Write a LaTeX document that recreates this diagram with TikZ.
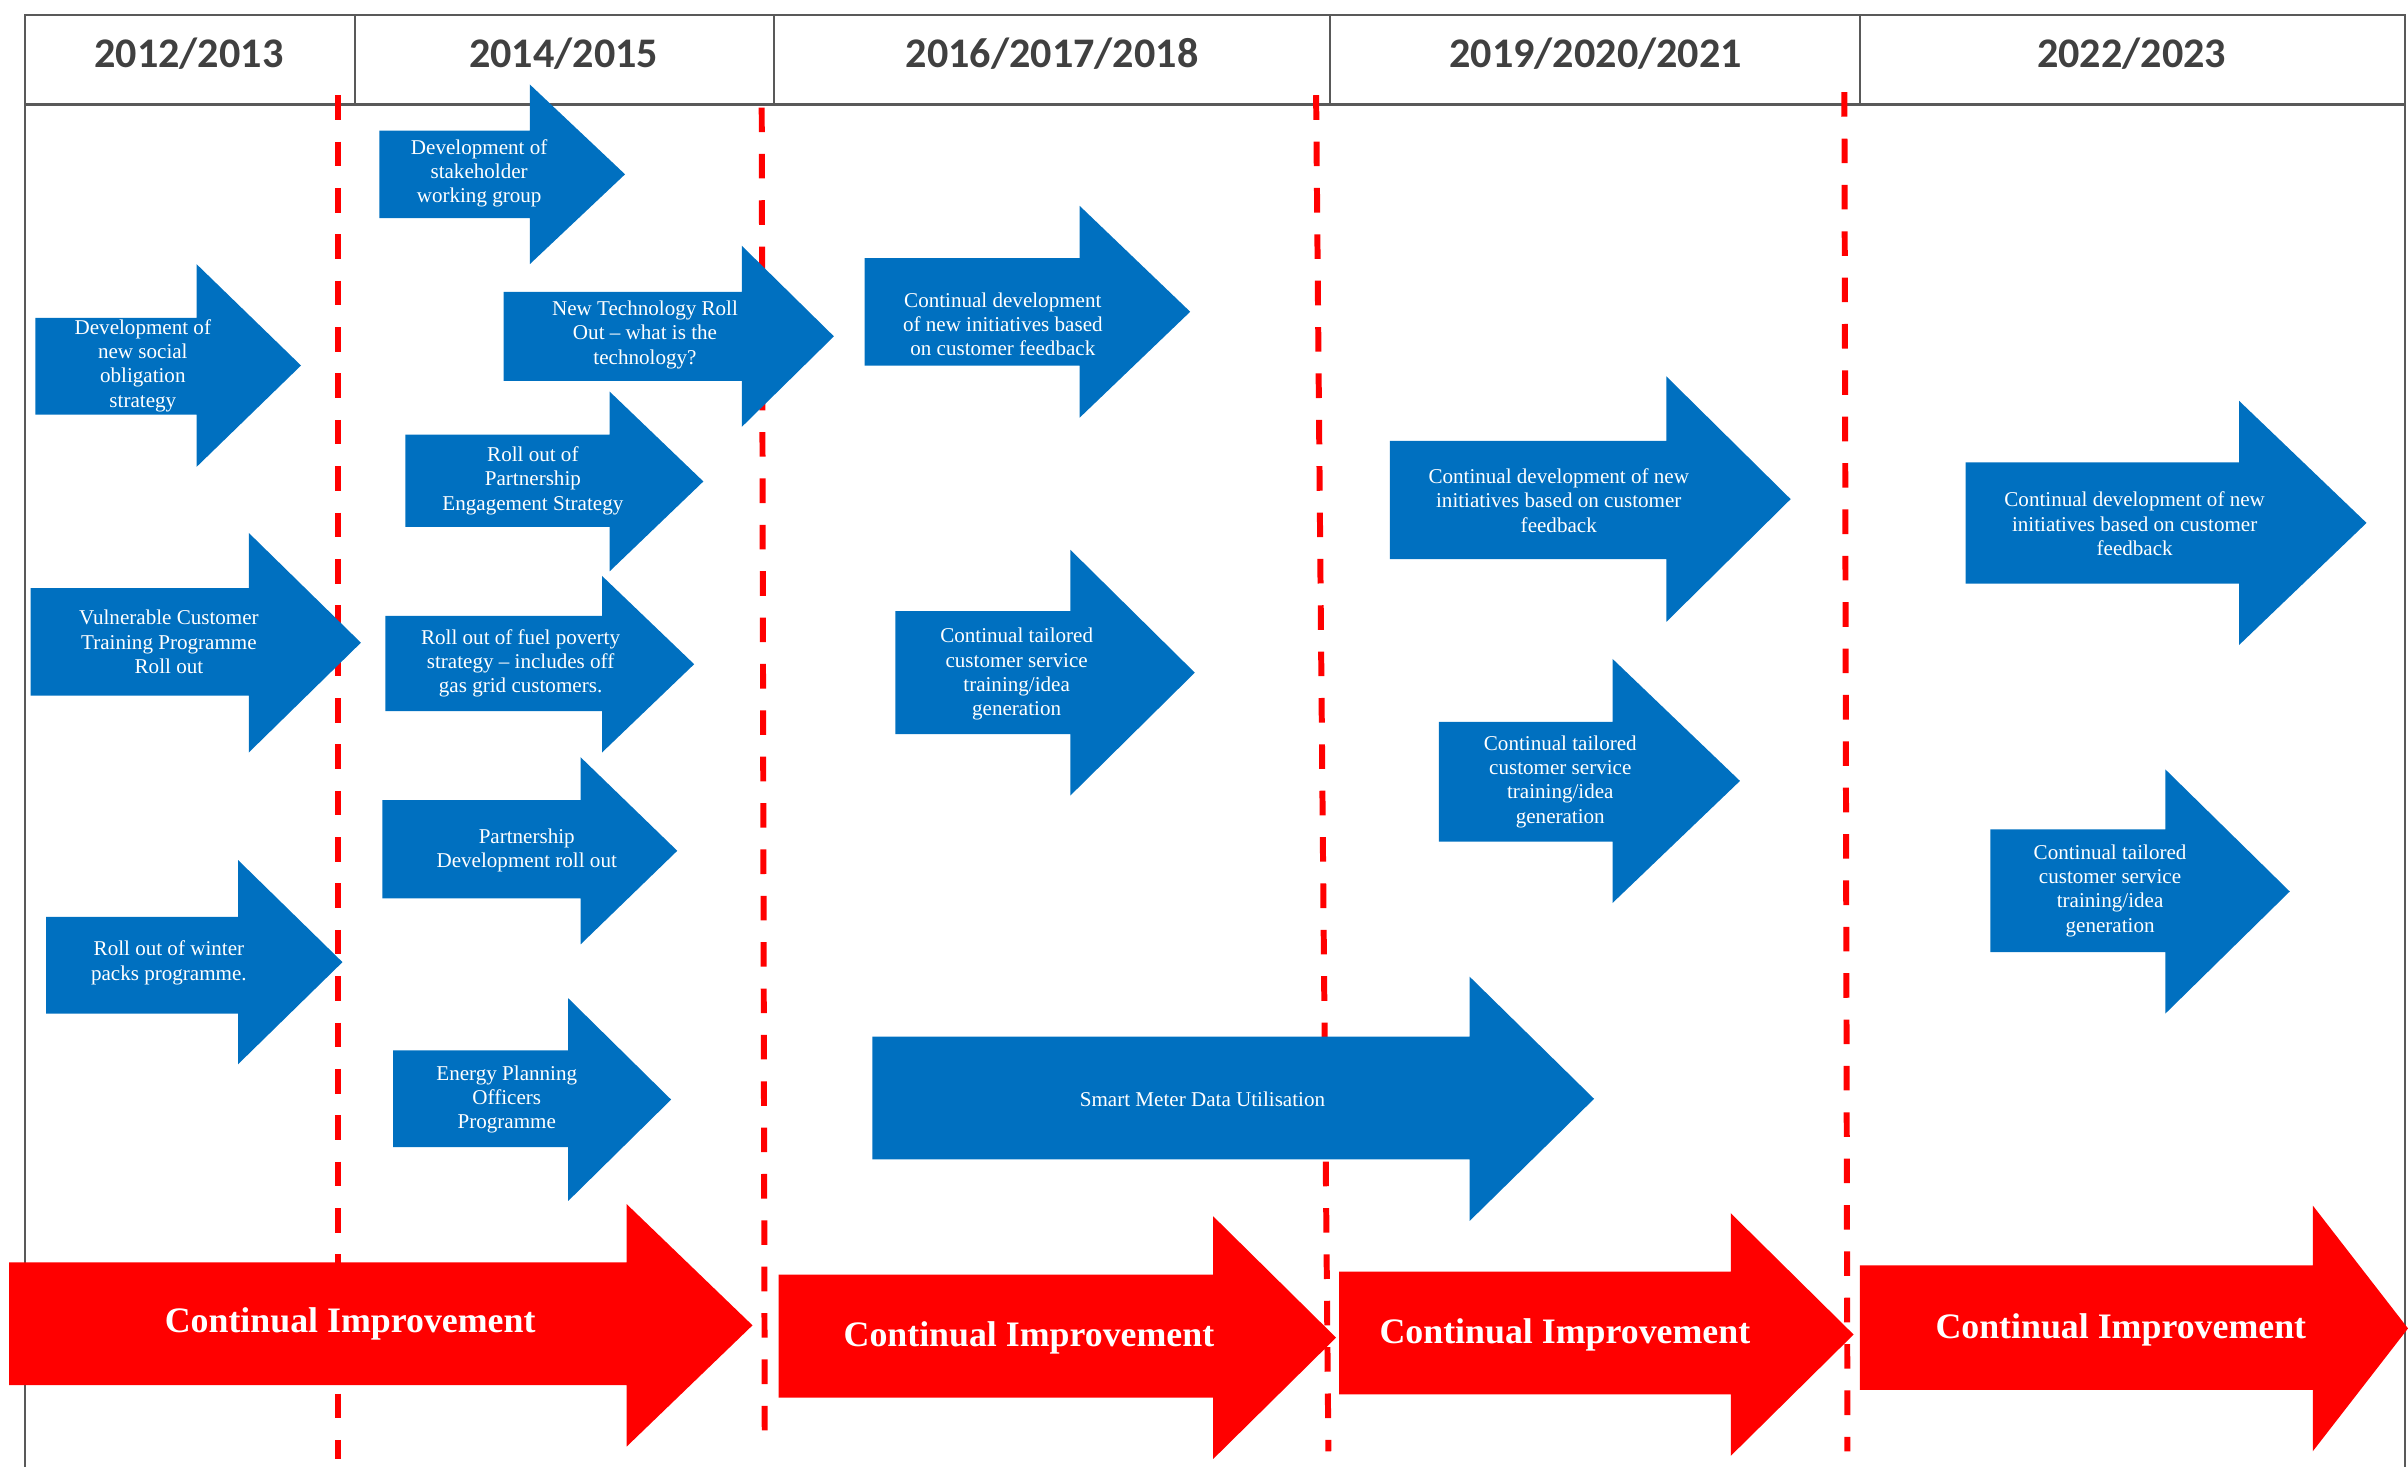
\documentclass[tikz,border=0pt]{standalone}
\usepackage{fontspec}
\setmainfont{Liberation Serif}
\newfontfamily\headfont{Carlito}
\usetikzlibrary{positioning,calc}

\definecolor{planblue}{HTML}{0070C0}
\definecolor{planred}{HTML}{FF0000}
\definecolor{rulegrey}{HTML}{595959}
\definecolor{headgrey}{HTML}{404040}

% block arrow: style, body left, body top, body bottom, head base, head top, head bottom, tip
\newcommand{\blockarrow}[8]{%
  \fill[#1] (#2,#3) -- (#5,#3) -- (#5,#6) -- (#8,{(#6+#7)/2})
    -- (#5,#7) -- (#5,#4) -- (#2,#4) -- cycle;}

\tikzset{
  stepfill/.style={fill=planblue},
  improvefill/.style={fill=planred},
  steptext/.style={align=center,text=white,inner sep=0pt,
    font=\fontsize{6}{6.9}\selectfont},
  improvetext/.style={text=white,inner sep=0pt,
    font=\bfseries\fontsize{10.2}{12}\selectfont},
  yeartext/.style={text=headgrey,inner sep=0pt,
    font=\headfont\bfseries\fontsize{12}{14}\selectfont},
  yeardash/.style={draw=planred,line width=1.7pt,dash pattern=on 7pt off 6.2pt},
}

\begin{document}
\begin{tikzpicture}[x=0.01536cm,y=-0.01536cm]
  \useasboundingbox (0,0) rectangle (1568,955);

  % table frame and year headings
  \draw[rulegrey,line width=0.6pt] (16,955) -- (16,10) -- (1566,10) -- (1566,955);
  \draw[rulegrey,line width=1pt] (16,68) -- (1566,68);
  \foreach \xdiv in {231,504,866,1211}
    \draw[rulegrey,line width=0.6pt] (\xdiv,10) -- (\xdiv,68);
  \node[yeartext] (yr1213) at (123,35) {2012/2013};
  \node[yeartext] (yr1415) at (367,35) {2014/2015};
  \node[yeartext] (yr1618) at (685,35) {2016/2017/2018};
  \node[yeartext] (yr1921) at (1039,35) {2019/2020/2021};
  \node[yeartext] (yr2223) at (1388,35) {2022/2023};

  % period boundaries
  \draw[yeardash] (220,62) -- (220,950);
  \draw[yeardash] (496,70) -- (498,945);
  \draw[yeardash] (857,62) -- (865,945);
  \draw[yeardash] (1201,60) -- (1203,945);

  % 2012/2013
  \blockarrow{stepfill}{23}{207}{270}{128}{172}{304}{196}
  \node[steptext] (socialplan) at (93,238)
    {Development of\\new social\\obligation\\strategy};
  \blockarrow{stepfill}{20}{383}{453}{162}{347}{490}{235}
  \node[steptext] (vulntrain) at (110,418)
    {Vulnerable Customer\\Training  Programme\\Roll out};
  \blockarrow{stepfill}{30}{597}{660}{155}{560}{693}{223}
  \node[steptext] (winterpacks) at (110,627)
    {Roll out of winter\\packs  programme.};

  % 2014/2015
  \blockarrow{stepfill}{247}{85}{142}{345}{55}{172}{407}
  \node[steptext] (stakeholder) at (312,113)
    {Development of\\stakeholder\\working group};
  \blockarrow{stepfill}{328}{190}{248}{483}{160}{278}{543}
  \node[steptext] (newtech) at (420,218)
    {New Technology Roll\\Out -- what is the\\technology?};
  \blockarrow{stepfill}{264}{283}{343}{397}{255}{372}{458}
  \node[steptext] (partnerengage) at (347,313)
    {Roll out of\\Partnership\\Engagement Strategy};
  \blockarrow{stepfill}{251}{401}{463}{392}{375}{490}{452}
  \node[steptext] (fuelpoverty) at (339,432)
    {Roll out of fuel poverty\\strategy -- includes off\\gas grid customers.};
  \blockarrow{stepfill}{249}{521}{585}{378}{493}{615}{441}
  \node[steptext] (partnerdev) at (343,554)
    {Partnership\\Development roll out};
  \blockarrow{stepfill}{256}{684}{747}{370}{650}{782}{437}
  \node[steptext] (energyofficers) at (330,716)
    {Energy Planning\\Officers\\Programme};

  % 2016/2017/2018
  \blockarrow{stepfill}{563}{168}{238}{703}{134}{272}{775}
  \node[steptext] (feedback16) at (653,211)
    {Continual development\\of new initiatives based\\on customer feedback};
  \blockarrow{stepfill}{583}{398}{478}{697}{358}{518}{778}
  \node[steptext] (training16) at (662,439)
    {Continual tailored\\customer service\\training/idea\\generation};
  \blockarrow{stepfill}{568}{675}{755}{957}{636}{795}{1038}
  \node[steptext] (smartmeter) at (783,716) {Smart Meter Data Utilisation};

  % 2019/2020/2021
  \blockarrow{stepfill}{905}{287}{364}{1085}{245}{405}{1166}
  \node[steptext] (feedback19) at (1015,326)
    {Continual development of new\\initiatives based on customer\\feedback};
  \blockarrow{stepfill}{937}{470}{548}{1050}{429}{588}{1133}
  \node[steptext] (training19) at (1016,509)
    {Continual tailored\\customer service\\training/idea\\generation};

  % 2022/2023
  \blockarrow{stepfill}{1280}{301}{380}{1458}{261}{420}{1541}
  \node[steptext] (feedback22) at (1390,341)
    {Continual development of new\\initiatives based on customer\\feedback};
  \blockarrow{stepfill}{1296}{540}{620}{1410}{501}{660}{1491}
  \node[steptext] (training22) at (1374,580)
    {Continual tailored\\customer service\\training/idea\\generation};

  % continual improvement band
  \blockarrow{improvefill}{6}{822}{902}{408}{784}{942}{490}
  \node[improvetext] (improve13) at (228,862) {Continual Improvement};
  \blockarrow{improvefill}{507}{830}{910}{790}{792}{950}{870}
  \node[improvetext] (improve16) at (670,871) {Continual Improvement};
  \blockarrow{improvefill}{872}{828}{908}{1127}{790}{948}{1207}
  \node[improvetext] (improve19) at (1019,869) {Continual Improvement};
  \blockarrow{improvefill}{1211}{824}{905}{1506}{785}{945}{1568}
  \node[improvetext] (improve22) at (1381,866) {Continual Improvement};
\end{tikzpicture}
\end{document}
